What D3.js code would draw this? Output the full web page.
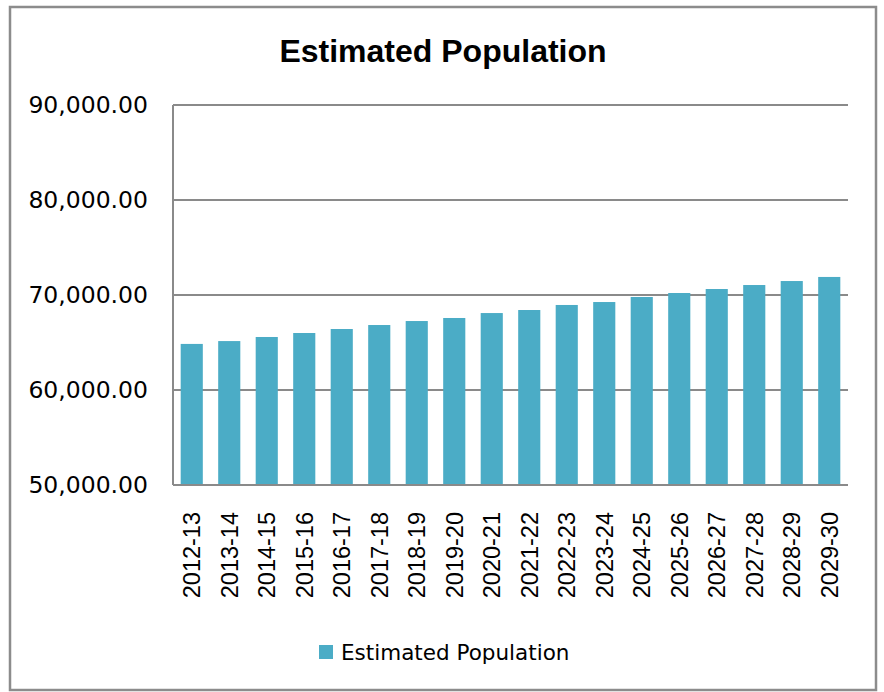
<!DOCTYPE html>
<html>
<head>
<meta charset="utf-8">
<script src="https://cdn.jsdelivr.net/npm/d3@7"></script>
<style>
  body { margin: 0; background: #fff; }
  text { fill: #000; }
</style>
</head>
<body>
<script>
// chart data
const years = ["2012-13", "2013-14", "2014-15", "2015-16", "2016-17", "2017-18",
  "2018-19", "2019-20", "2020-21", "2021-22", "2022-23", "2023-24",
  "2024-25", "2025-26", "2026-27", "2027-28", "2028-29", "2029-30"];
const population = [64850, 65150, 65580, 66000, 66420, 66840,
  67260, 67580, 68100, 68420, 68950, 69260,
  69790, 70210, 70630, 71050, 71470, 71900];
const yTicks = [50000, 60000, 70000, 80000, 90000];
const seriesName = "Estimated Population";

const width = 884, height = 692;
const margin = {left: 173, right: 36, top: 105, bottom: 207};
const barColor = "#4BACC6";
const gridColor = "#8a8a8a";

const svg = d3.select("body").append("svg")
  .attr("width", width)
  .attr("height", height);

// outer frame
svg.append("rect")
  .attr("x", 10).attr("y", 7)
  .attr("width", 866).attr("height", 683)
  .attr("fill", "#fff")
  .attr("stroke", "#8c8c8c")
  .attr("stroke-width", 2.5);

const x = d3.scaleBand()
  .domain(years)
  .range([margin.left, width - margin.right])
  .paddingInner(0.41)
  .paddingOuter(0.205);

const y = d3.scaleLinear()
  .domain([50000, 90000])
  .range([height - margin.bottom, margin.top]);

// gridlines
svg.append("g")
  .selectAll("line")
  .data(yTicks)
  .join("line")
  .attr("x1", margin.left).attr("x2", width - margin.right)
  .attr("y1", d => y(d)).attr("y2", d => y(d))
  .attr("stroke", gridColor)
  .attr("stroke-width", 2);

// y labels
const fmt = d3.format(",.2f");
svg.append("g")
  .selectAll("text")
  .data(yTicks)
  .join("text")
  .attr("x", 148)
  .attr("y", d => y(d))
  .attr("dy", "0.36em")
  .attr("text-anchor", "end")
  .style("font-family", "'DejaVu Sans', sans-serif")
  .style("font-size", "23.5px")
  .text(d => fmt(d));

// bars
svg.append("g")
  .selectAll("rect")
  .data(population)
  .join("rect")
  .attr("x", (d, i) => x(years[i]))
  .attr("y", d => y(d))
  .attr("width", x.bandwidth())
  .attr("height", d => y(50000) - y(d))
  .attr("fill", barColor);

// axis lines
svg.append("line")
  .attr("x1", margin.left).attr("x2", margin.left)
  .attr("y1", y(90000)).attr("y2", y(50000))
  .attr("stroke", gridColor).attr("stroke-width", 2);
svg.append("line")
  .attr("x1", margin.left).attr("x2", width - margin.right)
  .attr("y1", y(50000)).attr("y2", y(50000))
  .attr("stroke", gridColor).attr("stroke-width", 2);

// x labels, rotated
svg.append("g")
  .selectAll("text")
  .data(years)
  .join("text")
  .attr("transform", d => `translate(${x(d) + x.bandwidth() / 2}, 512) rotate(-90)`)
  .attr("dy", "0.36em")
  .attr("text-anchor", "end")
  .style("font-family", "'Liberation Sans', Arial, sans-serif")
  .style("font-size", "23.5px")
  .text(d => d);

// title
svg.append("text")
  .attr("x", 443)
  .attr("y", 62)
  .attr("text-anchor", "middle")
  .style("font-family", "'Liberation Sans', Arial, sans-serif")
  .style("font-weight", "bold")
  .style("font-size", "32px")
  .text(seriesName);

// legend
const legend = svg.append("g").attr("transform", "translate(319, 645)");
legend.append("rect")
  .attr("width", 14).attr("height", 14)
  .attr("fill", barColor);
legend.append("text")
  .attr("x", 22)
  .attr("y", 14.5)
  .style("font-family", "'DejaVu Sans', sans-serif")
  .style("font-size", "21.5px")
  .text(seriesName);
</script>
</body>
</html>
